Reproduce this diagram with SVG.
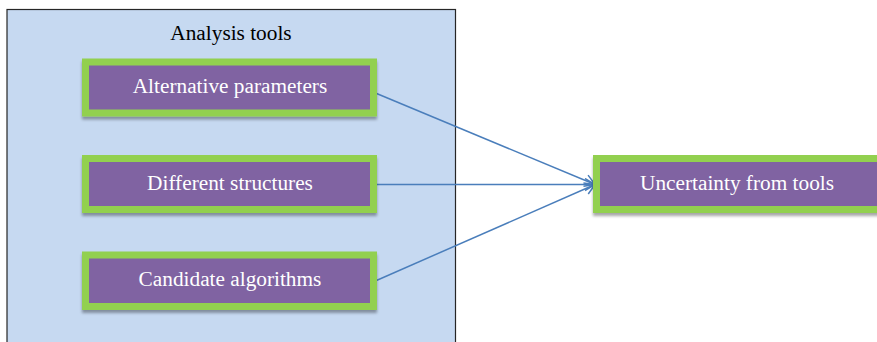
<svg xmlns="http://www.w3.org/2000/svg" width="877" height="342" viewBox="0 0 877 342">
<defs>
<style>
.box{fill:#8064a2;stroke:#92d050;stroke-width:7;filter:url(#sh)}
.lbl{font-family:"Liberation Serif",serif;font-size:21.3px;fill:#ffffff;text-anchor:middle}
.title{font-family:"Liberation Serif",serif;font-size:21.3px;fill:#000000;text-anchor:middle}
.conn{stroke:#4a7ebb;stroke-width:1.5;fill:none;marker-end:url(#ah)}
</style>
<filter id="sh" x="-10%" y="-20%" width="120%" height="150%">
<feGaussianBlur in="SourceAlpha" stdDeviation="1.5"/>
<feOffset dx="0" dy="3" result="b"/>
<feComponentTransfer><feFuncA type="linear" slope="0.35"/></feComponentTransfer>
<feMerge><feMergeNode/><feMergeNode in="SourceGraphic"/></feMerge>
</filter>
<marker id="ah" markerWidth="14" markerHeight="14" refX="12" refY="7" orient="auto" markerUnits="userSpaceOnUse">
<path d="M2,1 L12,7 L2,13" fill="none" stroke="#4a7ebb" stroke-width="1.5"/>
</marker>
</defs>
<g id="container">
<rect x="7" y="9.5" width="448.5" height="340" fill="#c6d9f1" stroke="#262626" stroke-width="1.2"/>
<text class="title" x="231" y="40">Analysis tools</text>
</g>
<g id="connectors">
<line class="conn" x1="373" y1="92" x2="595" y2="184.5"/>
<line class="conn" x1="373" y1="184.5" x2="595" y2="184.5"/>
<line class="conn" x1="373" y1="282" x2="595" y2="184.5"/>
</g>
<g id="node-alternative">
<rect class="box" x="85.5" y="62" width="288" height="51"/>
<text class="lbl" x="230" y="93">Alternative parameters</text>
</g>
<g id="node-different">
<rect class="box" x="85.5" y="158.5" width="288" height="51"/>
<text class="lbl" x="230" y="190">Different structures</text>
</g>
<g id="node-candidate">
<rect class="box" x="85.5" y="255" width="288" height="51.5"/>
<text class="lbl" x="230" y="286">Candidate algorithms</text>
</g>
<g id="node-uncertainty">
<rect class="box" x="596.5" y="158.5" width="290" height="51"/>
<text class="lbl" x="737" y="190">Uncertainty from tools</text>
</g>
</svg>
